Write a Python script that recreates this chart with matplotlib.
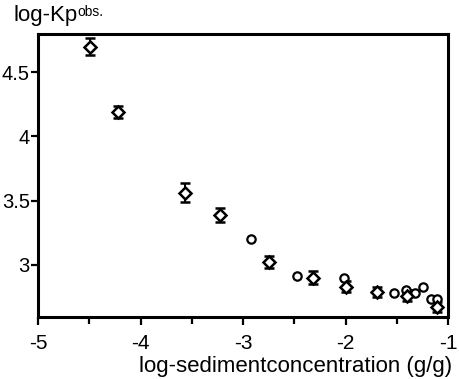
import matplotlib
matplotlib.use("Agg")
import matplotlib.pyplot as plt
import numpy as np

# diamonds with error bars
dia_x = [-4.49, -4.22, -3.57, -3.23, -2.75, -2.32, -2.00, -1.69, -1.40, -1.11]
dia_y = [4.70, 4.19, 3.56, 3.39, 3.02, 2.90, 2.83, 2.79, 2.76, 2.67]
dia_err = [0.065, 0.05, 0.075, 0.055, 0.045, 0.05, 0.045, 0.04, 0.045, 0.04]

# open circles
circ_x = [-2.92, -2.47, -2.02, -1.53, -1.41, -1.32, -1.24, -1.17, -1.11]
circ_y = [3.20, 2.91, 2.90, 2.78, 2.80, 2.78, 2.83, 2.73, 2.73]

xticks = [-5, -4, -3, -2, -1]
yticks = [3, 3.5, 4, 4.5]
ylabels = ["3", "3.5", "4", "4.5"]

plt.rcParams['font.family'] = ['Liberation Sans', 'DejaVu Sans']

fig = plt.figure(figsize=(4.6, 3.79), dpi=100)
ax = fig.add_axes([0.083, 0.164, 0.891, 0.746])

ax.errorbar(dia_x, dia_y, yerr=dia_err, fmt='D', ms=6, mfc='white', mec='black',
            mew=1.8, ecolor='black', elinewidth=1.4, capsize=3.5, capthick=1.8)
ax.plot(circ_x, circ_y, 'o', ms=6, mfc='white', mec='black', mew=1.6, linestyle='none')

ax.set_xlim(-5, -1)
ax.set_ylim(2.594, 4.797)
ax.set_xticks(xticks)
ax.set_xticklabels([str(t) for t in xticks])
ax.set_xticks(np.arange(-4.5, -1, 1.0), minor=True)
ax.set_yticks(yticks)
ax.set_yticklabels(ylabels)

for s in ax.spines.values():
    s.set_linewidth(2.2)
ax.tick_params(axis='x', which='major', direction='out', length=6, width=1.6,
               labelsize=15, pad=6)
ax.tick_params(axis='y', which='major', direction='out', length=5, width=1.6,
               labelsize=14.5, pad=1)
ax.tick_params(axis='x', which='minor', direction='out', length=5, width=1.6)

fig.text(0.03, 0.96, "log-Kp", fontsize=16, ha='left', va='center')
fig.text(0.168, 0.968, "obs.", fontsize=10, ha='left', va='center')
ax.set_xlabel("log-sedimentconcentration (g/g)", fontsize=16, loc='right')
ax.xaxis.set_label_coords(1.01, -0.138)
ax.xaxis.label.set_va('top')

fig.savefig("out.png", dpi=100)
